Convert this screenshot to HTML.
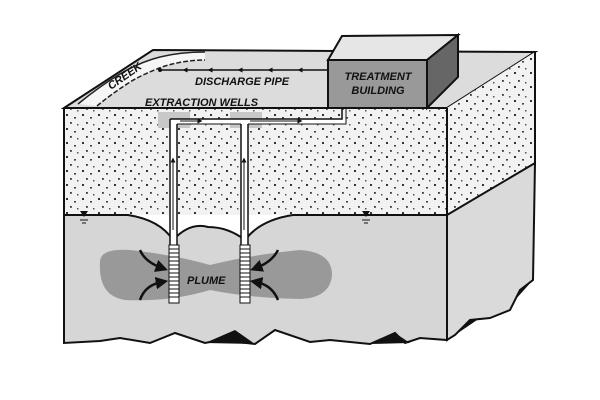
<!DOCTYPE html>
<html><head><style>body{margin:0;background:#fff}svg{display:block}</style></head><body>
<svg width="600" height="400" viewBox="0 0 600 400" xmlns="http://www.w3.org/2000/svg" font-family="Liberation Sans, sans-serif">
<defs>
<pattern id="dots" width="16" height="14" patternUnits="userSpaceOnUse">
<rect width="16" height="14" fill="#f2f2f2"/>
<rect x="2" y="2" width="2" height="2" fill="#333"/><rect x="10" y="5" width="2" height="1.6" fill="#444"/>
<rect x="6" y="10" width="1.8" height="1.8" fill="#333"/><rect x="13" y="12" width="1.5" height="1.5" fill="#555"/>
</pattern>
<marker id="ar" viewBox="0 0 10 10" refX="5" refY="5" markerWidth="5" markerHeight="5" orient="auto"><path d="M0,0L10,5L0,10z" fill="#111"/></marker>
</defs>
<!-- top face -->
<polygon points="64,108 153,50 535,52 447,108" fill="#dcdcdc" stroke="#111" stroke-width="2"/>
<!-- creek band -->
<path d="M78,104 Q100,86 120,74 Q140,62 160,57 Q180,52 205,52 L205,60 Q185,60 165,66 Q145,73 130,82 Q110,95 97,106 Z" fill="#f6f6f6"/>
<path d="M78,104 Q100,86 120,74 Q140,62 160,57 Q180,52 205,52" fill="none" stroke="#222" stroke-width="1.5"/>
<path d="M97,106 Q110,95 130,82 Q145,73 165,66 Q185,60 205,60" fill="none" stroke="#222" stroke-width="1.5" stroke-dasharray="5,2"/>
<text x="0" y="0" font-size="11" font-weight="bold" font-style="italic" transform="translate(111,90) rotate(-35)" fill="#111">CREEK</text>
<!-- front face sand -->
<rect x="64" y="108" width="383" height="107" fill="url(#dots)"/>
<!-- right face sand -->
<polygon points="447,108 535,52 535,163 447,215" fill="url(#dots)"/>
<!-- right face water -->
<polygon points="447,215 535,163 533,280 520,290 510,310 490,318 470,320 455,335 447,340" fill="#dadada" stroke="#111" stroke-width="2"/>
<path d="M470,320 L455,335 L480,318 Z M533,280 L520,290 L515,300 Z" fill="#111"/>
<!-- front saturated -->
<path d="M64,215 L128,215 Q160,220 173,240 Q190,222 208,227 Q228,227 245,240 Q260,220 293,215 L447,215 L447,340 L420,338 L405,343 L395,333 L370,344 L330,340 L310,342 L275,330 L255,344 L220,340 L205,343 L175,333 L150,343 L120,338 L100,341 L64,343 Z" fill="#d6d6d6" stroke="#111" stroke-width="2"/>
<path d="M235,330 L255,344 L205,343 Z M395,333 L410,343 L370,344 Z" fill="#111"/>
<!-- plume -->
<path d="M100,262 Q100,248 130,250 Q175,255 210,265 Q250,255 300,250 Q332,252 332,275 Q330,298 300,299 Q250,298 210,290 Q170,302 125,300 Q98,296 100,262 Z" fill="#999"/>
<!-- wells -->
<rect x="158" y="112" width="32" height="16" fill="#c8c8c8"/>
<rect x="230" y="112" width="32" height="16" fill="#c8c8c8"/>
<rect x="170" y="119" width="7" height="126" fill="#fff"/>
<rect x="241" y="124" width="7" height="121" fill="#fff"/>
<line x1="170" y1="245" x2="170" y2="119" stroke="#111" stroke-width="1.5"/>
<line x1="177" y1="245" x2="177" y2="124" stroke="#111" stroke-width="1.5"/>
<line x1="241" y1="245" x2="241" y2="124" stroke="#111" stroke-width="1.5"/>
<line x1="248" y1="245" x2="248" y2="124" stroke="#111" stroke-width="1.5"/>
<line x1="173" y1="230" x2="173" y2="160" stroke="#111" stroke-width="1" marker-end="url(#ar)"/>
<line x1="244" y1="230" x2="244" y2="160" stroke="#111" stroke-width="1" marker-end="url(#ar)"/>
<g fill="#fff" stroke="#111" stroke-width="1"><rect x="169" y="245" width="10" height="58"/><rect x="240" y="245" width="10" height="58"/></g>
<path d="M169,249h10M169,253h10M169,257h10M169,261h10M169,265h10M169,269h10M169,273h10M169,277h10M169,281h10M169,285h10M169,289h10M169,293h10M169,297h10M240,249h10M240,253h10M240,257h10M240,261h10M240,265h10M240,269h10M240,273h10M240,277h10M240,281h10M240,285h10M240,289h10M240,293h10M240,297h10" stroke="#111" stroke-width="1"/>
<!-- horizontal pipe -->
<rect x="177" y="119" width="169" height="5" fill="#fff"/>
<path d="M170,119 L342,119 L342,108" fill="none" stroke="#111" stroke-width="1.5"/>
<path d="M177,124 L241,124 M248,124 L346,124 L346,108" fill="none" stroke="#111" stroke-width="1"/>
<line x1="180" y1="121" x2="200" y2="121" stroke="#111" marker-end="url(#ar)"/>
<line x1="250" y1="121" x2="300" y2="121" stroke="#111" marker-end="url(#ar)"/>
<!-- flow arrows -->
<g fill="none" stroke="#111" stroke-width="2.5" marker-end="url(#ar)">
<path d="M140,250 Q145,262 162,268"/><path d="M140,300 Q145,285 162,282"/>
<path d="M278,250 Q272,262 256,268"/><path d="M278,300 Q272,285 256,282"/>
</g>
<text x="187" y="284" font-size="11" font-weight="bold" font-style="italic" fill="#111">PLUME</text>
<!-- water table symbols -->
<path d="M80,211 l8,0 l-4,6z M362,211 l8,0 l-4,6z" fill="#111"/>
<path d="M80,220h8M82,223h4M362,220h8M364,223h4" stroke="#111"/>
<!-- discharge pipe -->
<line x1="328" y1="70" x2="160" y2="70" stroke="#111" stroke-width="1.5"/>
<circle cx="160" cy="70" r="2" fill="#111"/>
<line x1="320" y1="70" x2="300" y2="70" stroke="#111" marker-end="url(#ar)"/>
<line x1="290" y1="70" x2="270" y2="70" stroke="#111" marker-end="url(#ar)"/>
<line x1="250" y1="70" x2="240" y2="70" stroke="#111" marker-end="url(#ar)"/>
<line x1="220" y1="70" x2="210" y2="70" stroke="#111" marker-end="url(#ar)"/>
<line x1="195" y1="70" x2="185" y2="70" stroke="#111" marker-end="url(#ar)"/>
<text x="195" y="85" font-size="11" font-weight="bold" font-style="italic" fill="#111">DISCHARGE PIPE</text>
<text x="145" y="106" font-size="11" font-weight="bold" font-style="italic" fill="#111">EXTRACTION WELLS</text>
<!-- building -->
<polygon points="328,60 342,36 458,35 427,60" fill="#e6e6e6" stroke="#111" stroke-width="2"/>
<polygon points="427,60 458,35 458,77 427,108" fill="#666" stroke="#111" stroke-width="2"/>
<rect x="328" y="60" width="99" height="48" fill="#999" stroke="#111" stroke-width="2"/>
<text x="378" y="80" font-size="11" font-weight="bold" font-style="italic" text-anchor="middle" fill="#111">TREATMENT</text>
<text x="378" y="94" font-size="11" font-weight="bold" font-style="italic" text-anchor="middle" fill="#111">BUILDING</text>
<!-- edges -->
<line x1="64" y1="108" x2="64" y2="343" stroke="#111" stroke-width="2"/>
<line x1="447" y1="108" x2="447" y2="340" stroke="#111" stroke-width="2"/>
<line x1="535" y1="52" x2="535" y2="165" stroke="#111" stroke-width="2"/>
<line x1="64" y1="108" x2="447" y2="108" stroke="#111" stroke-width="2"/>
</svg>
</body></html>
